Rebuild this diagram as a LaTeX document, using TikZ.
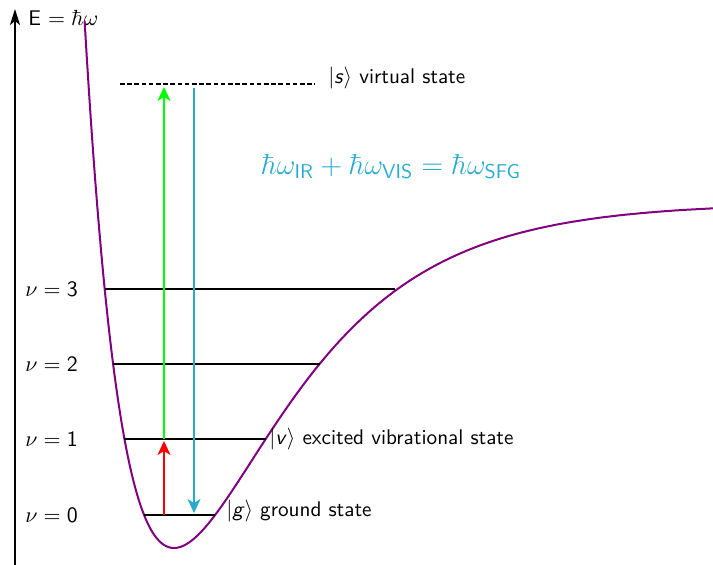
\documentclass[tikz,border=0pt]{standalone}
\usepackage{amsmath}
\usetikzlibrary{arrows.meta}
\definecolor{sfgblue}{RGB}{40,170,205}
\definecolor{morse}{RGB}{128,0,128}
\newcommand{\sfi}[1]{\textsf{\textit{#1}}}
\begin{document}
\begin{tikzpicture}[x=0.5pt,y=-0.5pt,font=\fontsize{10.6}{13}\selectfont\sffamily,
  level/.style={line width=0.6pt},
  lbl/.style={anchor=west,inner sep=0pt},
  trans/.style={line width=1pt,-{Stealth[length=7pt,width=6.5pt,inset=2pt]}}]
\useasboundingbox (0,0) rectangle (713,565);
% energy axis
\coordinate (ax0) at (15,565);
\coordinate (ax1) at (15,9);
\draw[line width=1pt,-{Stealth[length=8pt,width=5pt,inset=2pt]}] (ax0) -- (ax1);
\node[lbl] (elab) at (28,18) {E $= \hbar\omega$};
% Morse potential
\draw[morse,line width=1pt] plot[domain=84.6:713,samples=300]
  (\x,{548-345*(1-exp(-0.009*(\x-174)))*(1-exp(-0.009*(\x-174)))});
% vibrational levels
\foreach \n/\yy in {0/515,1/439,2/364,3/289} {
  \pgfmathsetmacro\uu{sqrt((548-\yy)/345)}
  \pgfmathsetmacro\xl{174-ln(1+\uu)/0.009}
  \pgfmathsetmacro\xr{174-ln(1-\uu)/0.009}
  \coordinate (L\n a) at (\xl,\yy);
  \coordinate (L\n b) at (\xr,\yy);
  \draw[level] (L\n a) -- (L\n b);
  \node[lbl] (nu\n) at (25,\yy) {$\nu = \mathsf{\n}$};
}
% virtual state
\coordinate (Va) at (120,84);
\coordinate (Vb) at (315,84);
\draw[dash pattern=on 2.3pt off 1.3pt, line width=0.8pt] (Va) -- (Vb);
\node[lbl] (vs) at (328,78) {$|\sfi{s}\rangle$ virtual state};
\node[lbl] (vl) at (269,439) {$|\sfi{v}\rangle$ excited vibrational state};
\node[lbl] (gl) at (226,511) {$|\sfi{g}\rangle$ ground state};
% transitions
\coordinate (R0) at (164,515);
\coordinate (R1) at (164,441);
\coordinate (G0) at (164,439);
\coordinate (G1) at (164,87);
\coordinate (B0) at (194,88);
\coordinate (B1) at (194,513);
\draw[trans,red] (R0) -- (R1);
\draw[trans,green] (G0) -- (G1);
\draw[trans,sfgblue] (B0) -- (B1);
\node[sfgblue,font=\Large\sffamily] (eq) at (391,167)
  {$\hbar\omega_{\textsf{IR}} + \hbar\omega_{\textsf{VIS}} = \hbar\omega_{\textsf{SFG}}$};
\end{tikzpicture}
\end{document}
